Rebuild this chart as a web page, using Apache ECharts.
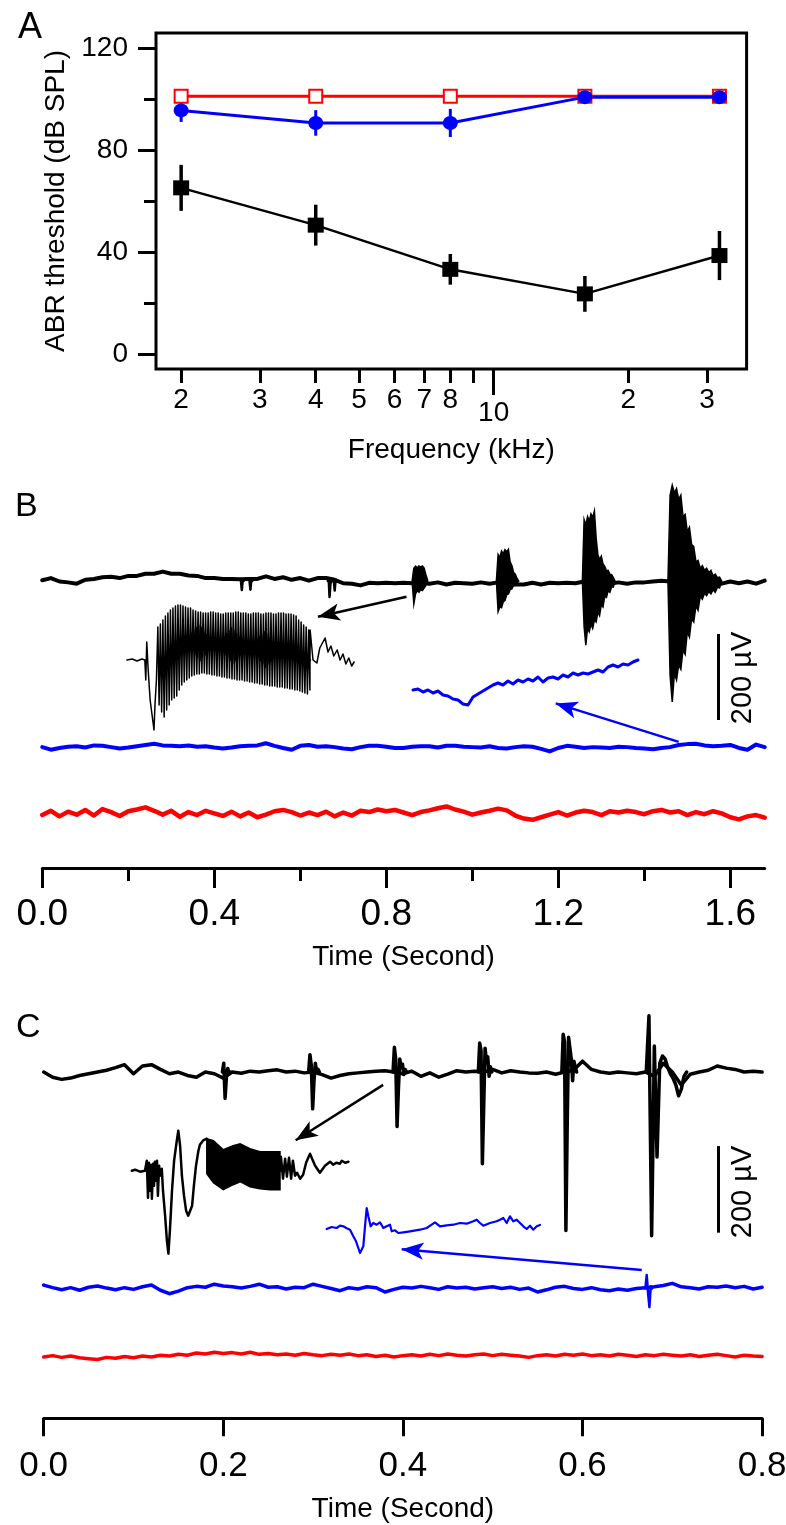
<!DOCTYPE html>
<html>
<head>
<meta charset="utf-8">
<script src="https://cdn.jsdelivr.net/npm/echarts@6/dist/echarts.min.js"></script>
<style>
html, body { margin: 0; padding: 0; background: #fff; }
#chart { width: 786px; height: 1525px; }
</style>
</head>
<body>
<div id="chart"></div>
<script>
// ---------- panel A : ABR thresholds ----------
var freqs = [2, 4, 8, 16, 32];
var blackThresh = [65.2, 50.6, 33.3, 23.7, 38.7];
var blackErr = [9, 8, 6, 7, 9.6];
var blueThresh = [95.5, 90.6, 90.6, 100.7, 100.7];
var blueErr = [4.5, 5, 5.5, 0, 0];
var redThresh = [101, 101, 101, 101, 101];
var freqTicks = [2, 3, 4, 5, 6, 7, 8, 9, 20, 30];
var freqLabels = [2, 3, 4, 5, 6, 7, 8, 20, 30];
var threshTicks = [0, 40, 80, 120];
var threshMinor = [20, 60, 100];

// ---------- panel B : long tone bursts (uV, 0.02 s samples) ----------
var bStep = 0.02;
var bTicks = [0, 0.4, 0.8, 1.2, 1.6];
var bMinor = [0.2, 0.6, 1.0, 1.4];
var bBlack = [2, 7, -1, -3, -6, 3, 5, 9, 10, 7,
  12, 12, 17, 17, 22, 17, 17, 13, 12, 7,
  7, 5, 5, 4, 5, 5, 11, 5, 9, 3,
  7, 1, 7, 7, 3, -5, -6, -10, -4, -5,
  -4, -5, -4, -5, -4, -6, -3, -8, -4, -5,
  -6, -3, -6, -3, -6, -8, -8, -4, -8, -4,
  -5, -4, -5, -1, -3, -3, -6, -3, -6, -3,
  -3, -1, 1, -1, -1, -3, 3, -3, -3, -6,
  -1, -5, -1, -6, 1];
var bBlue = [0, -6, -2, 1, 2, -1, 4, 3, 0, -3,
  -1, 2, 5, 8, 4, 3, 2, 4, 1, 2,
  -1, -3, -1, 2, 3, 4, 9, 3, -2, -6,
  3, 5, 1, 2, 0, -3, -5, 0, 3, 3,
  1, -2, -2, 1, 2, 2, -1, 3, 3, 1,
  0, -1, 2, -2, -3, 0, 2, 1, -4, -10,
  -2, 3, 1, -2, 0, -1, -2, 1, 0, -2,
  -3, -5, -2, 0, 5, 7, 8, 4, 2, 3,
  5, -2, -6, 6, 0];
var bRed = [-4, 6, -7, 4, -3, 8, -5, 10, 3, -6,
  5, 9, 14, 6, -3, 6, -8, 3, -4, 6,
  0, -6, 4, -7, 2, -9, -3, 5, 8, 3,
  -5, 2, -4, 4, -7, 2, -5, 6, 3, 9,
  5, 8, 2, -4, 3, 7, 12, 16, 9, 4,
  -3, 2, 6, 11, 7, -5, -12, -15, -9, -3,
  3, -5, 2, 6, 3, -4, 5, 2, 6, 3,
  -2, 5, 8, 2, 5, -4, 3, -2, 5, 0,
  -9, -14, -7, -4, -10];
var bBlueOffset = -386;
var bRedOffset = -540;
// short clicks on the black trace
var bClickStart = [0.462, 0.482, 0.664, 0.678];
var bClickStep = 0.002;
var bClicks = [[0, -21, 2, 0], [0, -20, 2, 0], [0, 6, -37, -8, 4, 0], [0, -22, 3, 0]];
// tone-burst envelopes on the black trace
var bBurstStart = [0.860, 1.056, 1.256, 1.455];
var bBurstStep = [0.004, 0.004, 0.004, 0.005];
var bBurstUpper = [
  [0, 30, 35, 31, 35, 33, 35, 30, 15, 2],
  [0, 62, 55, 70, 64, 73, 68, 74, 45, 36, 20, 16, 6, 0],
  [0, 143, 130, 150, 140, 156, 148, 163, 100, 62, 50, 58, 40, 34, 24, 25, 16, 15, 8, 0],
  [0, 200, 223, 205, 215, 190, 200, 150, 155, 115, 125, 85, 80, 45, 48, 30, 36, 25, 30, 20, 25, 12, 16, 8, 9, 0]
];
var bBurstLower = [
  [0, -53, -30, -22, -26, -20, -22, -16, -10, -2],
  [0, -71, -60, -62, -48, -45, -32, -30, -20, -18, -10, -10, -4, 0],
  [0, -106, -149, -110, -118, -100, -110, -90, -95, -72, -80, -55, -60, -35, -38, -22, -26, -13, -14, 0],
  [0, -220, -281, -215, -230, -195, -205, -160, -170, -118, -130, -88, -95, -58, -68, -36, -42, -28, -34, -24, -30, -20, -26, -14, -16, 0]
];
// inset: expanded first burst (ms, a.u.)
var bInLead = [[0.4, 0], [1.5, 1], [2.5, -1], [3.5, 1], [4.1, 0], [4.3, -20], [4.5, 18], [4.8, -10],
  [5.2, -40], [5.6, -55], [6.0, -70], [6.2, -45], [6.5, -20]];
var bInStart = 6.8;
var bInStep = 0.52;
var bInTop = [33, 36, 40, 44, 47,
  50, 52, 54, 55, 55, 54, 53, 52,
  52, 50, 49, 48, 48, 47, 47, 47, 48, 48, 47, 47, 46, 46, 47, 47,
  47, 47, 48, 48, 47, 47, 47, 46, 46, 47, 47, 47, 46, 46, 47, 47, 47, 46, 46, 47, 47, 47, 46, 46, 46, 45, 44, 40, 38, 35, 33, 30];
var bInBottom = [-45, -52, -57, -50, -45,
  -40, -38, -36, -30, -25, -22, -20, -18,
  -16, -15, -14, -14, -13, -13, -14, -14, -15, -15, -16, -16, -17, -17, -18, -18,
  -19, -19, -20, -20, -20, -21, -21, -22, -22, -23, -23, -24, -24, -25, -25, -26, -26, -26, -27, -27, -27, -28, -28, -29, -29, -30, -30, -31, -32, -33, -34, -30];
var bInBeat = [2, 5, 8, 5, 2, 0, 0, 0, 0, 0,
  0, 3, 6, 9, 12, 15, 18, 15, 12, 9, 6, 3,
  0, 0, 3, 6, 9, 12, 15, 18, 15, 12, 9, 6, 3,
  0, 0, 3, 6, 9, 12, 15, 18, 15, 12, 9, 6, 3,
  0, 0, 2, 4, 6, 4, 2, 0, 0, 0, 0, 0, 0];
var bInTail = [[38.3, 30], [38.9, 0], [39.7, -3], [40.3, 12], [41.4, 22], [42.0, 8], [42.6, 14], [43.2, 4],
  [43.9, 10], [44.5, 0], [45.1, 6], [45.7, -4], [46.3, 2], [46.9, -6], [47.4, -2]];
// inset: expanded blue response (1 ms samples, a.u.)
var bBlueIn = [0, 1, -2, 0, -3, -1, -5, -6, -9, -10, -14, -15, -7, -4, -1, 2, 5, 7, 5, 9,
  6, 10, 8, 11, 9, 13, 8, 12, 13, 11, 15, 13, 17, 15, 17, 16, 18, 20, 18, 23,
  25, 23, 26, 25, 28, 30];
var bArrowBlack = [[0.847, -36.5], [0.641, -83]];
var bArrowBlue = [[1.480, -373.7], [1.194, -284.4]];
var bBarX = 1.571, bBarTop = -123, barUV = 200;

// ---------- panel C : clicks (uV, 0.01 s samples) ----------
var cStep = 0.01;
var cBlack = [0, -12, -17, -14, -8, -4, 0, 4, 10, 17,
  -4, 14, 17, 6, -4, 0, -8, -12, 0, -4,
  -14, 0, -3, 2, 0, 3, 5, 0, 2, -2,
  0, -6, -14, -8, -4, -2, 0, 2, 3, 0,
  -4, 2, -10, -2, -12, -5, 3, 0, 2, 0,
  6, -2, 3, 0, -2, -3, 0, -5, 0, 4,
  25, 6, 0, -3, 0, -2, -4, 0, -10, 20,
  0, -30, -5, 0, 4, 14, 9, 6, 0, 2,
  0];
var cBlue = [8, 2, -3, 2, -4, 3, 6, 1, -3, 2,
  -2, 4, 8, -4, -12, -6, 2, 5, 3, 10,
  6, 4, 1, 5, 10, 3, 4, -1, 3, 2,
  10, 5, 0, -5, 2, -1, 4, 2, -8, -2,
  3, 1, 5, 2, -2, 4, 1, 3, -1, 2,
  4, 0, 3, -2, 1, -8, -3, 3, 5, 0,
  -2, 2, -3, -5, -1, -4, 0, 2, 4, 7,
  12, 4, 2, -1, 4, 3, 6, 2, 5, -1,
  3];
var cRed = [-2, 1, -3, 0, -4, -6, -8, -3, -5, -1,
  -4, 0, -2, 2, 0, 4, 2, 7, 5, 9,
  6, 8, 5, 9, 4, 6, 3, 5, 2, 6,
  3, 1, 4, 2, 5, 1, 3, -1, 2, -2,
  1, 3, 0, 4, 1, 5, 2, 0, 3, 5,
  1, 4, 2, 0, -3, 1, 3, 0, 4, 2,
  5, 1, 3, 0, 4, 2, -1, 3, 1, 4,
  2, 0, 3, -1, 2, 4, 1, -2, 2, 0,
  -1];
var cBlueOffset = -500;
var cRedOffset = -656;
var cClickStart = [0.199, 0.295, 0.389, 0.484, 0.577, 0.671];
var cClickStep = [0.0015, 0.0015, 0.0015, 0.0015, 0.0015, 0.003];
var cClicks = [
  [0, 20, -61, -10, 8, -4, 0],
  [0, 40, 15, -85, -20, 20, 0, 6, 0],
  [0, 57, 30, -126, -40, 30, 10, 18, -6, 6, 0],
  [0, 67, 50, -212, -80, 55, 25, 35, -10, 12, 0],
  [0, 87, 70, -366, -120, 80, 55, 30, -20, 25, 10, 0],
  [0, 130, -378, 60, -196, 20, 37, 30, 10, -5, -15, -30, -55, -40, -10, 0]
];
var cBlueClickStart = [0.670];
var cBlueClickStep = 0.0015;
var cBlueClicks = [[0, 31, -10, -43, 5, 0]];
// inset: expanded click response (ms, a.u.)
var cInHead = [[0.6, 0], [1.7, 1], [3.3, -1], [5.0, 0], [5.6, 10], [6.0, -27], [6.3, 8], [6.7, -20], [7.0, 6],
  [7.3, -28], [7.7, 7], [8.0, -15], [8.3, 9], [8.7, -10], [9.0, 10], [9.3, -25], [9.7, 5], [10.0, -5],
  [10.6, 2], [11.0, -20], [11.7, -45], [12.3, -70], [12.8, -83], [13.3, -60], [14.0, -20], [14.7, 10],
  [15.6, 30], [16.1, 40], [16.7, 25], [17.3, -5], [18.0, -25], [18.7, -40], [19.4, -45], [20.0, -47],
  [20.7, -35], [21.3, -15], [22.0, 5], [22.8, 20], [23.3, 26], [24.3, 30], [25.6, 32]];
var cInBandX = [25.6, 27.8, 31.1, 34.4, 36.7, 40.0, 43.3, 46.7, 50.0];
var cInBandUp = [32, 30, 21, 25, 27, 22, 19, 19, 19];
var cInBandLo = [-3, -12, -19, -14, -11, -16, -18, -19, -19];
var cInTail = [[50.0, 0], [50.3, 14], [51.0, -8], [51.7, 12], [52.3, -6], [53.0, 13], [53.7, -8], [54.3, 10],
  [55.0, -5], [55.7, -2], [56.7, -8], [57.7, -4], [58.7, 8], [60.0, 17], [61.7, 5], [63.3, -2], [65.0, 5],
  [66.7, 9], [67.7, 6], [68.9, 8], [70.0, 7], [70.6, 10], [71.7, 8], [72.8, 9]];
var cBlueIn = [[0.17, -1], [1.42, 1], [2.67, 0], [3.5, 2.3], [4.33, 1.7], [5.17, -0.3], [6.0, -1.7], [6.83, -8.3],
  [7.5, -13.3], [8.08, -20], [8.5, -25], [8.92, -26.7], [9.33, -18.3], [9.75, 1.7], [10.17, 20], [10.58, 11.7],
  [11.17, 1.7], [11.83, 5], [12.67, 3.3], [13.5, 5.7], [14.33, 0], [15.17, 1.7], [16.0, 3.3], [16.42, -3.3],
  [17.25, -2.3], [18.08, -5], [19.33, -4.3], [21.0, -3.3], [23.5, -1.7], [25.17, 0], [26.42, 3.3], [27.25, 5.7],
  [28.5, 1.7], [30.17, 2.7], [31.83, 3.3], [33.5, 5], [35.17, 4.3], [36.83, 6.7], [37.67, 8.3], [38.5, 5],
  [39.33, 2.3], [41.0, 5], [42.67, 6.7], [43.5, 8.3], [44.33, 10], [45.17, 5], [46.0, 11.7], [46.83, 6.7],
  [47.67, 8.3], [48.5, 5], [49.33, 1.7], [50.17, -1], [51.0, 2.3], [51.83, -1.7], [52.67, 1.7], [53.5, 3]];
var cArrowBlack = [[0.378, -29.8], [0.2806, -157.5]];
var cArrowBlue = [[0.666, -457], [0.3986, -409.5]];
var cBarX = 0.751, cBarTop = -171;

var FONT = '"Liberation Sans", Arial, sans-serif';
var BLUE = '#0000ff', RED = '#ff0000', BLACK = '#000000';

function sampled(start, step, vals, offset) {
  return vals.map(function (v, i) { return [start + i * step, v + (offset || 0)]; });
}
function trace(ax, ay, data, color, width) {
  return {
    type: 'line', xAxisIndex: ax, yAxisIndex: ay, data: data, symbol: 'none', silent: true,
    lineStyle: { color: color, width: width, join: 'round', cap: 'round' }, itemStyle: { color: color }
  };
}
function bandSeries(ax, ay, bands, color) {
  return {
    type: 'custom', xAxisIndex: ax, yAxisIndex: ay, silent: true,
    data: bands.map(function (b) { return [b.xs[0], 0]; }),
    renderItem: function (params, api) {
      var b = bands[params.dataIndex], pts = [];
      for (var i = 0; i < b.xs.length; i++) pts.push(api.coord([b.xs[i], b.up[i]]));
      for (var j = b.xs.length - 1; j >= 0; j--) pts.push(api.coord([b.xs[j], b.lo[j]]));
      return { type: 'polygon', shape: { points: pts }, style: { fill: color, stroke: color, lineWidth: 1.5 } };
    }
  };
}
function errorBars(xs, vals, errs, color, width) {
  return {
    type: 'custom', xAxisIndex: 0, yAxisIndex: 0, silent: true,
    data: xs.map(function (x, i) { return [x, vals[i] - errs[i], vals[i] + errs[i]]; }),
    encode: { x: 0, y: [1, 2] },
    renderItem: function (params, api) {
      var a = api.coord([api.value(0), api.value(1)]);
      var b = api.coord([api.value(0), api.value(2)]);
      return { type: 'line', shape: { x1: a[0], y1: a[1], x2: b[0], y2: b[1] }, style: { stroke: color, lineWidth: width } };
    }
  };
}
function arrow(pts, color) {
  return [
    { coord: pts[0], symbol: 'none', lineStyle: { color: color, width: 2.5, type: 'solid' }, itemStyle: { color: color } },
    { coord: pts[1], symbol: 'arrow', symbolSize: [13, 22], itemStyle: { color: color } }
  ];
}
function scaleBar(x, top) {
  return [
    { coord: [x, top], symbol: 'none', lineStyle: { color: BLACK, width: 3, type: 'solid' } },
    { coord: [x, top - barUV], symbol: 'none' }
  ];
}
function marks(list) {
  return { silent: true, animation: false, label: { show: false }, emphasis: { disabled: true }, data: list };
}
function hidden(grid, min, max) {
  return { type: 'value', gridIndex: grid, min: min, max: max, show: false };
}

// build inset B zig-zag from stroke tops/bottoms
var bInData = bInLead.slice();
var bInBeatData = [];
bInTop.forEach(function (top, i) {
  var x = bInStart + i * bInStep;
  bInData.push([x, top]);
  bInData.push([x + bInStep / 2, bInBottom[i]]);
  var mid = (top + bInBottom[i]) / 2;
  bInBeatData.push([x + bInStep * 0.25, mid + bInBeat[i]]);
  bInBeatData.push([x + bInStep * 0.75, mid - bInBeat[i]]);
});
bInData = bInData.concat(bInTail);

var bBursts = bBurstStart.map(function (t0, k) {
  return { xs: bBurstUpper[k].map(function (v, i) { return t0 + i * bBurstStep[k]; }), up: bBurstUpper[k], lo: bBurstLower[k] };
});

var series = [
  // panel A
  errorBars(freqs, blackThresh, blackErr, BLACK, 3.5),
  { type: 'line', xAxisIndex: 0, yAxisIndex: 0, data: freqs.map(function (f, i) { return [f, blackThresh[i]]; }),
    symbol: 'rect', symbolSize: [16, 15], lineStyle: { color: BLACK, width: 2.5 }, itemStyle: { color: BLACK }, silent: true },
  { type: 'line', xAxisIndex: 0, yAxisIndex: 0, data: freqs.map(function (f, i) { return [f, redThresh[i]]; }),
    symbol: 'rect', symbolSize: 13, lineStyle: { color: RED, width: 3 },
    itemStyle: { color: '#fff', borderColor: RED, borderWidth: 2 }, silent: true },
  errorBars(freqs, blueThresh, blueErr, BLUE, 3),
  { type: 'line', xAxisIndex: 0, yAxisIndex: 0, data: freqs.map(function (f, i) { return [f, blueThresh[i]]; }),
    symbol: 'circle', symbolSize: [15, 14], lineStyle: { color: BLUE, width: 3 }, itemStyle: { color: BLUE }, silent: true }
];

// panel B main traces
var bBlackSeries = trace(2, 2, sampled(0, bStep, bBlack), BLACK, 4);
bBlackSeries.markLine = marks([arrow(bArrowBlack, BLACK), scaleBar(bBarX, bBarTop)]);
var bBlueSeries = trace(2, 2, sampled(0, bStep, bBlue, bBlueOffset), BLUE, 4);
bBlueSeries.markLine = marks([arrow(bArrowBlue, BLUE)]);
series.push(bBlackSeries, bBlueSeries, trace(2, 2, sampled(0, bStep, bRed, bRedOffset), RED, 4.5));
bClicks.forEach(function (c, k) { series.push(trace(2, 2, sampled(bClickStart[k], bClickStep, c), BLACK, 2.5)); });
series.push(bandSeries(2, 2, bBursts, BLACK));
// panel B insets
series.push(trace(4, 3, bInData, BLACK, 1.5));
series.push(trace(4, 3, bInBeatData, BLACK, 1.5));
series.push(trace(5, 4, sampled(0, 1, bBlueIn), BLUE, 3));

// panel C main traces
var cBlackSeries = trace(6, 5, sampled(0, cStep, cBlack), BLACK, 3.5);
cBlackSeries.markLine = marks([arrow(cArrowBlack, BLACK), scaleBar(cBarX, cBarTop)]);
var cBlueSeries = trace(6, 5, sampled(0, cStep, cBlue, cBlueOffset), BLUE, 3.5);
cBlueSeries.markLine = marks([arrow(cArrowBlue, BLUE)]);
series.push(cBlackSeries, cBlueSeries, trace(6, 5, sampled(0, cStep, cRed, cRedOffset), RED, 3.5));
cClicks.forEach(function (c, k) { series.push(trace(6, 5, sampled(cClickStart[k], cClickStep[k], c), BLACK, 3.5)); });
cBlueClicks.forEach(function (c, k) { series.push(trace(6, 5, sampled(cBlueClickStart[k], cBlueClickStep, c, cBlueOffset), BLUE, 2.5)); });
// panel C insets
series.push(trace(7, 6, cInHead, BLACK, 2.5));
series.push(bandSeries(7, 6, [{ xs: cInBandX, up: cInBandUp, lo: cInBandLo }], BLACK));
series.push(trace(7, 6, cInTail, BLACK, 2.5));
series.push(trace(8, 7, cBlueIn, BLUE, 2.2));

var tickFont = { color: BLACK, fontFamily: FONT };
var option = {
  animation: false,
  backgroundColor: '#fff',
  textStyle: { fontFamily: FONT, color: BLACK },
  title: [
    { text: 'A', left: 18, top: 10, padding: 0, textStyle: { fontSize: 36, fontWeight: 'normal', fontFamily: FONT, color: BLACK } },
    { text: 'B', left: 15, top: 490, padding: 0, textStyle: { fontSize: 34, fontWeight: 'normal', fontFamily: FONT, color: BLACK } },
    { text: 'C', left: 16, top: 1011, padding: 0, textStyle: { fontSize: 34, fontWeight: 'normal', fontFamily: FONT, color: BLACK } }
  ],
  grid: [
    { left: 156, top: 33, width: 590.6, height: 336, show: true, borderColor: BLACK, borderWidth: 3, outerBoundsMode: 'none' },
    { left: 42.3, top: 480, width: 722.4, height: 388, outerBoundsMode: 'none' },
    { left: 125, top: 598, width: 232, height: 137, outerBoundsMode: 'none' },
    { left: 413, top: 655, width: 226, height: 60, outerBoundsMode: 'none' },
    { left: 43.7, top: 990, width: 718.4, height: 428.3, outerBoundsMode: 'none' },
    { left: 130, top: 1125, width: 220, height: 135, outerBoundsMode: 'none' },
    { left: 326, top: 1195, width: 220, height: 65, outerBoundsMode: 'none' }
  ],
  xAxis: [
    { type: 'log', gridIndex: 0, min: 1.757, max: 36.8, position: 'bottom',
      axisLine: { show: false, onZero: false }, splitLine: { show: false },
      axisTick: { customValues: freqTicks, length: 14, lineStyle: { color: BLACK, width: 3 } },
      axisLabel: Object.assign({ customValues: freqLabels, fontSize: 28, margin: 17,
        formatter: function (v) { return v >= 10 ? String(Math.round(v / 10)) : String(v); } }, tickFont),
      name: 'Frequency (kHz)', nameLocation: 'middle', nameGap: 67,
      nameTextStyle: { fontSize: 28, color: BLACK, fontFamily: FONT } },
    { type: 'log', gridIndex: 0, min: 1.757, max: 36.8, position: 'bottom',
      axisLine: { show: false, onZero: false }, splitLine: { show: false },
      axisTick: { customValues: [10], length: 26, lineStyle: { color: BLACK, width: 3 } },
      axisLabel: Object.assign({ customValues: [10], fontSize: 28, margin: 30 }, tickFont) },
    { type: 'value', gridIndex: 1, min: 0, max: 1.68, position: 'bottom', splitLine: { show: false },
      axisLine: { onZero: false, lineStyle: { color: BLACK, width: 3 } },
      axisTick: { customValues: bTicks, length: 20, lineStyle: { color: BLACK, width: 3 } },
      axisLabel: Object.assign({ customValues: bTicks, fontSize: 37, margin: 28,
        formatter: function (v) { return v.toFixed(1); } }, tickFont),
      name: 'Time (Second)', nameLocation: 'middle', nameGap: 75,
      nameTextStyle: { fontSize: 28, color: BLACK, fontFamily: FONT } },
    { type: 'value', gridIndex: 1, min: 0, max: 1.68, position: 'bottom', splitLine: { show: false },
      axisLine: { show: false, onZero: false }, axisLabel: { show: false },
      axisTick: { customValues: bMinor, length: 13, lineStyle: { color: BLACK, width: 3 } } },
    hidden(2, 0, 48),
    hidden(3, 0, 45.2),
    { type: 'value', gridIndex: 4, min: 0, max: 0.8, interval: 0.2, position: 'bottom', splitLine: { show: false },
      axisLine: { onZero: false, lineStyle: { color: BLACK, width: 3 } },
      axisTick: { length: 18, lineStyle: { color: BLACK, width: 3 } },
      axisLabel: Object.assign({ fontSize: 35, margin: 31, showMaxLabel: true,
        formatter: function (v) { return v.toFixed(1); } }, tickFont),
      name: 'Time (Second)', nameLocation: 'middle', nameGap: 77,
      nameTextStyle: { fontSize: 28, color: BLACK, fontFamily: FONT } },
    hidden(5, 0, 73.33),
    hidden(6, 0, 55)
  ],
  yAxis: [
    { type: 'value', gridIndex: 0, min: -5.7, max: 125.8, position: 'left',
      axisLine: { show: false, onZero: false }, splitLine: { show: false },
      axisTick: { customValues: threshTicks, length: 18, lineStyle: { color: BLACK, width: 3 } },
      axisLabel: Object.assign({ customValues: threshTicks, fontSize: 28, margin: 28 }, tickFont),
      name: 'ABR threshold (dB SPL)', nameLocation: 'middle', nameGap: 66,
      nameTextStyle: { fontSize: 28, color: BLACK, fontFamily: FONT } },
    { type: 'value', gridIndex: 0, min: -5.7, max: 125.8, position: 'left',
      axisLine: { show: false, onZero: false }, splitLine: { show: false }, axisLabel: { show: false },
      axisTick: { customValues: threshMinor, length: 12, lineStyle: { color: BLACK, width: 3 } } },
    hidden(1, -667, 235),
    hidden(2, -75, 62),
    hidden(3, -25, 35),
    hidden(4, -799.7, 189.4),
    hidden(5, -89.3, 45.7),
    hidden(6, -32, 33)
  ],
  graphic: [
    { type: 'text', x: 743, y: 678, rotation: Math.PI / 2, silent: true,
      style: { text: '200 µV', fontSize: 29, fontFamily: FONT, fill: BLACK, align: 'center', verticalAlign: 'middle' } },
    { type: 'text', x: 743, y: 1192, rotation: Math.PI / 2, silent: true,
      style: { text: '200 µV', fontSize: 29, fontFamily: FONT, fill: BLACK, align: 'center', verticalAlign: 'middle' } }
  ],
  series: series
};

var chart = echarts.init(document.getElementById('chart'));
chart.setOption(option);
</script>
</body>
</html>
